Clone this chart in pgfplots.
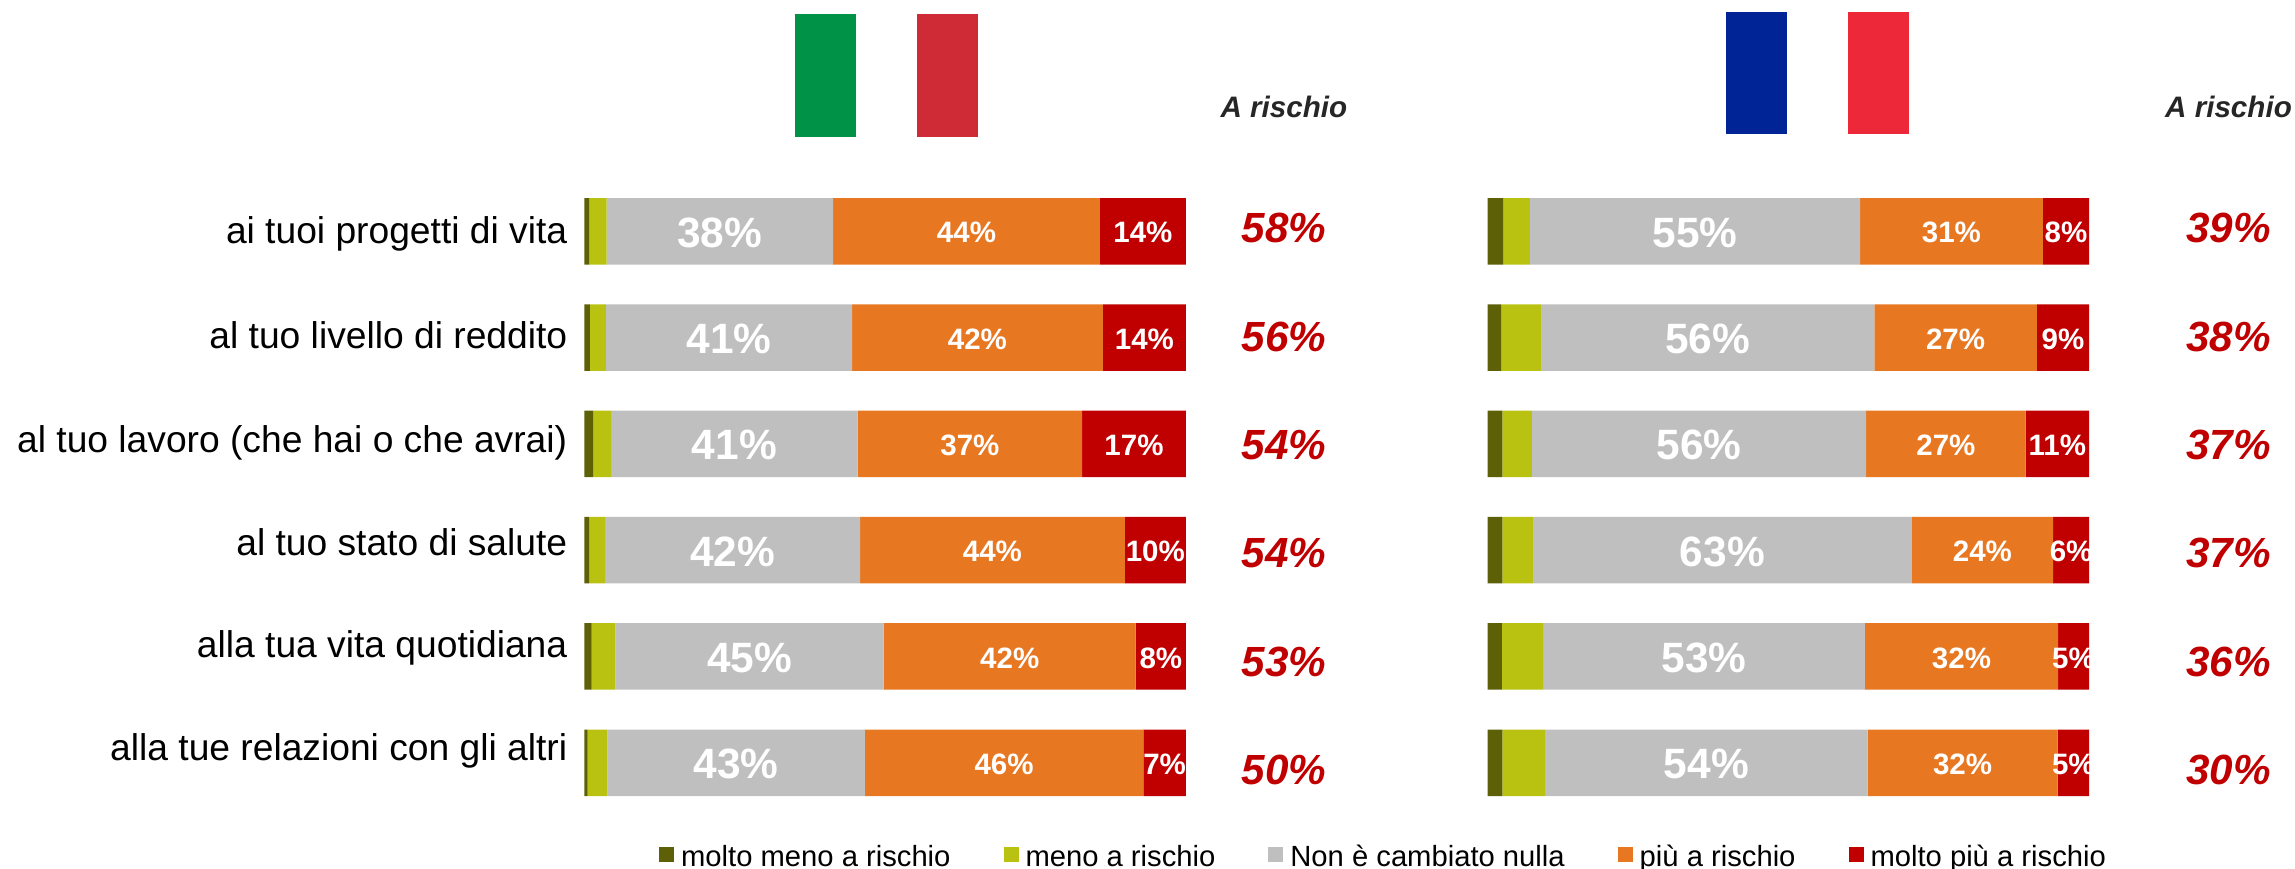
\documentclass[border=0pt]{standalone}
\usepackage{fontspec}
\setmainfont{Liberation Sans}
\usepackage{pgfplots}
\usepackage{pgfplotstable}
\pgfplotsset{compat=1.18}

\definecolor{c1}{HTML}{5E6007}
\definecolor{c2}{HTML}{B9C210}
\definecolor{c3}{HTML}{BFBFBF}
\definecolor{c4}{HTML}{E87722}
\definecolor{c5}{HTML}{C00000}

% row, five segments, printed labels of the last three
\pgfplotstableread{
row a b c d e lc ld le
0 0.78 2.90 37.66 44.36 14.30 38 44 14
1 0.89 2.70 40.90 41.70 13.81 41 42 14
2 1.44 3.00 41.00 37.30 17.26 41 37 17
3 0.78 2.66 42.40 44.00 10.16 42 44 10
4 1.22 3.94 44.60 41.90 8.34 45 42 8
5 0.55 3.27 42.80 46.30 7.08 43 46 7
}\italia
\pgfplotstableread{
row a b c d e lc ld le
0 2.60 4.43 54.90 30.40 7.67 55 31 8
1 2.27 6.60 55.45 27.00 8.68 56 27 9
2 2.49 4.87 55.60 26.50 10.54 56 27 11
3 2.49 5.04 63.00 23.50 5.97 63 24 6
4 2.38 6.87 53.50 32.10 5.15 53 32 5
5 2.49 7.09 53.60 31.60 5.22 54 32 5
}\francia
% y is the row, meta the printed total
\pgfplotstableread{
row it fr
-0.028 58 39
0.991 56 38
2.010 54 37
3.030 54 37
4.050 53 36
5.070 50 30
}\totali

\newcommand{\fs}[1]{\fontsize{#1}{#1}\selectfont}
\pgfplotsset{
  panel/.style={
    xbar stacked, scale only axis, clip=false,
    width=601.5pt, height=637.8pt,
    xmin=0, xmax=100, ymin=-0.5, ymax=5.5, y dir=reverse,
    bar width=66.5pt, axis line style={draw=none},
    xtick=\empty, major tick length=0pt,
    anchor=south west,
  },
  seg/.style={draw=none, fill=#1},
  lab/.style={
    point meta=explicit symbolic,
    nodes near coords={\pgfplotspointmeta\%},
    every node near coord/.append style={
      font=\bfseries\fs{#1}, text=white, inner sep=0pt, anchor=center, yshift=-1.5pt},
  },
}
\newcommand{\bars}[1]{
  \addplot[seg=c1] table[x=a,y=row] {#1};
  \addplot[seg=c2] table[x=b,y=row] {#1};
  \addplot[seg=c3,lab=42.4] table[x=c,y=row,meta=lc] {#1};
  \addplot[seg=c4,lab=29.5] table[x=d,y=row,meta=ld] {#1};
  \addplot[seg=c5,lab=29.5] table[x=e,y=row,meta=le] {#1};
}

\begin{document}
\begin{tikzpicture}[x=1pt,y=1pt]
\useasboundingbox (0,0) rectangle (2295,869);

% flags
\fill[fill={rgb,255:red,0;green,146;blue,70}] (795.2,732) rectangle (856,855);
\fill[fill={rgb,255:red,206;green,43;blue,55}] (917,732) rectangle (978,855);
\fill[fill={rgb,255:red,0;green,35;blue,149}] (1726.2,735) rectangle (1787,857);
\fill[fill={rgb,255:red,237;green,41;blue,57}] (1848,735) rectangle (1909,857);

\node[anchor=base west,inner sep=0pt,text={rgb,255:red,38;green,38;blue,38},font=\bfseries\itshape\fs{29.6}]
  at (1220.4,751) {A rischio};
\node[anchor=base west,inner sep=0pt,text={rgb,255:red,38;green,38;blue,38},font=\bfseries\itshape\fs{29.6}]
  at (2165,751) {A rischio};

\begin{axis}[panel, at={(584.4pt,53.1pt)},
  ytick={0.118,1.10,2.08,3.05,4.01,4.98},
  yticklabels={ai tuoi progetti di vita,al tuo livello di reddito,
    al tuo lavoro (che hai o che avrai),al tuo stato di salute,
    alla tua vita quotidiana,alla tue relazioni con gli altri},
  y tick label style={font=\fs{37.2}, anchor=base east, inner sep=0pt, xshift=-17pt},
  legend columns=5,
  legend cell align=left,
  legend image code/.code={\fill[#1] (0pt,-5pt) rectangle (15pt,10pt);},
  legend style={at={(axis description cs:0.1239,0)}, anchor=north west, yshift=-29pt,
    draw=none, fill=none, inner sep=0pt, font=\fs{29.2}, nodes={inner sep=0pt},
    /tikz/every odd column/.append style={column sep=7pt},
    /tikz/every even column/.append style={column sep=53pt}},
]
\bars{\italia}
\legend{molto meno a rischio,meno a rischio,Non è cambiato nulla,più a rischio,molto più a rischio}
\end{axis}

\begin{axis}[panel, at={(1487.5pt,53.1pt)}, ytick=\empty]
\bars{\francia}
\end{axis}

% totals "A rischio", same rows, x in page units
\begin{axis}[scale only axis, clip=false, width=2295pt, height=637.8pt,
  at={(0pt,53.1pt)}, anchor=south west,
  xmin=0, xmax=2295, ymin=-0.5, ymax=5.5, y dir=reverse,
  hide axis,
  point meta=explicit symbolic,
  nodes near coords={\pgfplotspointmeta\%},
  every node near coord/.append style={font=\bfseries\itshape\fs{42.2},
    text=c5, inner sep=0pt, anchor=center}]
\addplot[only marks, mark=none] table[x expr=1284, y=row, meta=it] {\totali};
\addplot[only marks, mark=none] table[x expr=2228.5, y=row, meta=fr] {\totali};
\end{axis}
\end{tikzpicture}
\end{document}
